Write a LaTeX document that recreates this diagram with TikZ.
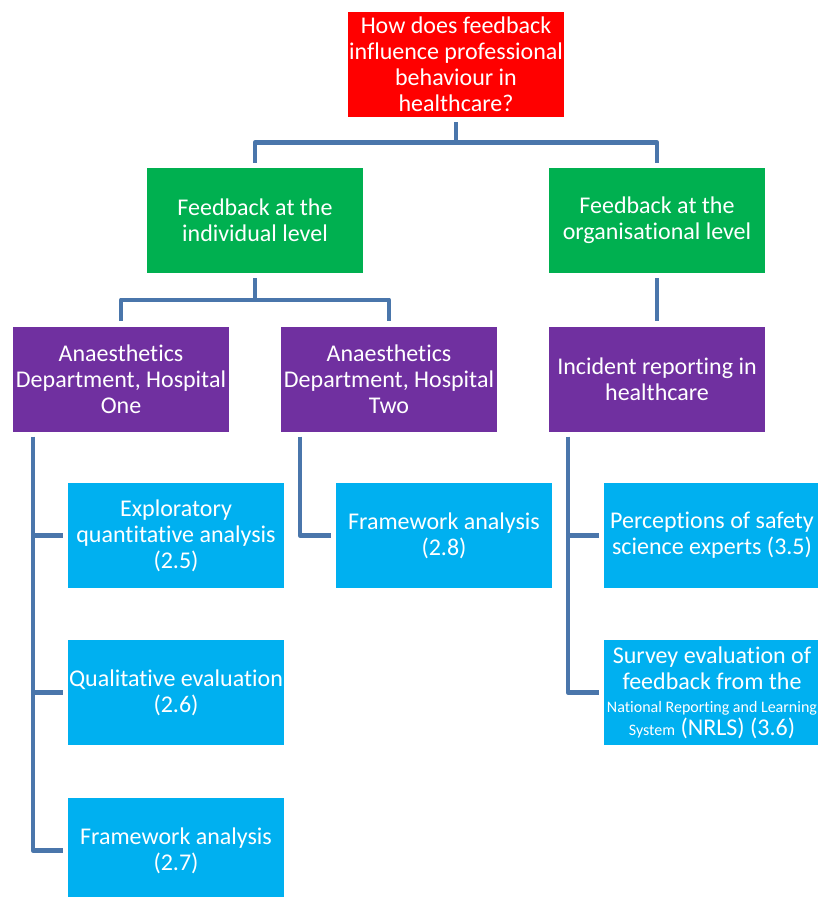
\documentclass[tikz,border=0pt]{standalone}
\usepackage{fontspec}
\setmainfont{Carlito}[Ligatures={NoCommon}]
\usetikzlibrary{calc}
\definecolor{qred}{HTML}{FF0000}
\definecolor{lvlgreen}{HTML}{00B050}
\definecolor{sitepurple}{HTML}{7030A0}
\definecolor{studyblue}{HTML}{00B0F0}
\definecolor{linkblue}{HTML}{4A76AB}
\tikzset{
  box/.style={minimum width=216pt, minimum height=105pt, inner sep=0pt,
    text=white, align=center, font=\fontsize{24}{26}\selectfont},
  conn/.style={draw=linkblue, line width=4.5pt, line join=round,
    shorten <=5pt, shorten >=5pt},
}
\newcommand{\finetext}[1]{{\fontsize{16}{18}\selectfont #1}}
\begin{document}
\begin{tikzpicture}[x=1pt, y=-1pt]
\useasboundingbox (0,0) rectangle (818,897);

% question
\node[box, fill=qred] (q) at (456,64.5)
  {How does feedback\\influence professional\\behaviour in\\healthcare?};

% levels
\node[box, fill=lvlgreen] (ind) at (255,220.5) {Feedback at the\\individual level};
\node[box, fill=lvlgreen] (org) at (657,220.5) {Feedback at the\\organisational level};

% sites
\node[box, fill=sitepurple] (h1) at (121,379) {Anaesthetics\\Department, Hospital\\One};
\node[box, fill=sitepurple] (h2) at (389,379) {Anaesthetics\\Department, Hospital\\Two};
\node[box, fill=sitepurple] (inc) at (657,379) {Incident reporting in\\healthcare};

% studies
\node[box, fill=studyblue] (s25) at (176,535.5) {Exploratory\\quantitative analysis\\(2.5)};
\node[box, fill=studyblue] (s26) at (176,692.5) {Qualitative evaluation\\(2.6)};
\node[box, fill=studyblue] (s27) at (176,850.5) {Framework analysis\\(2.7)};
\node[box, fill=studyblue] (s28) at (444,535.5) {Framework analysis\\(2.8)};
\node[box, fill=studyblue] (s35) at (712,535.5) {Perceptions of safety\\science experts (3.5)};
\node[box, fill=studyblue] (s36) at (712,692.5)
  {Survey evaluation of\\feedback from the\\[-3pt]\finetext{National Reporting and Learning}\\[-3pt]\finetext{System} (NRLS) (3.6)};

% question to levels
\draw[conn] (q.south) |- ($(q.south)!.5!(ind.north)$) -| (ind.north);
\draw[conn] (q.south) |- ($(q.south)!.5!(org.north)$) -| (org.north);

% levels to sites
\draw[conn] (ind.south) |- ($(ind.south)!.5!(h1.north)$) -| (h1.north);
\draw[conn] (ind.south) |- ($(ind.south)!.5!(h2.north)$) -| (h2.north);
\draw[conn] (org.south) -- (inc.north);

% trunks from sites to studies
\coordinate (t1) at ([xshift=20pt]h1.south west);
\coordinate (t2) at ([xshift=19pt]h2.south west);
\coordinate (t3) at ([xshift=19pt]inc.south west);

\draw[conn] (t1) |- (s27.west);
\draw[conn, shorten <=0pt] (t1 |- s25.west) -- (s25.west);
\draw[conn, shorten <=0pt] (t1 |- s26.west) -- (s26.west);

\draw[conn] (t2) |- (s28.west);

\draw[conn] (t3) |- (s36.west);
\draw[conn, shorten <=0pt] (t3 |- s35.west) -- (s35.west);
\end{tikzpicture}
\end{document}
